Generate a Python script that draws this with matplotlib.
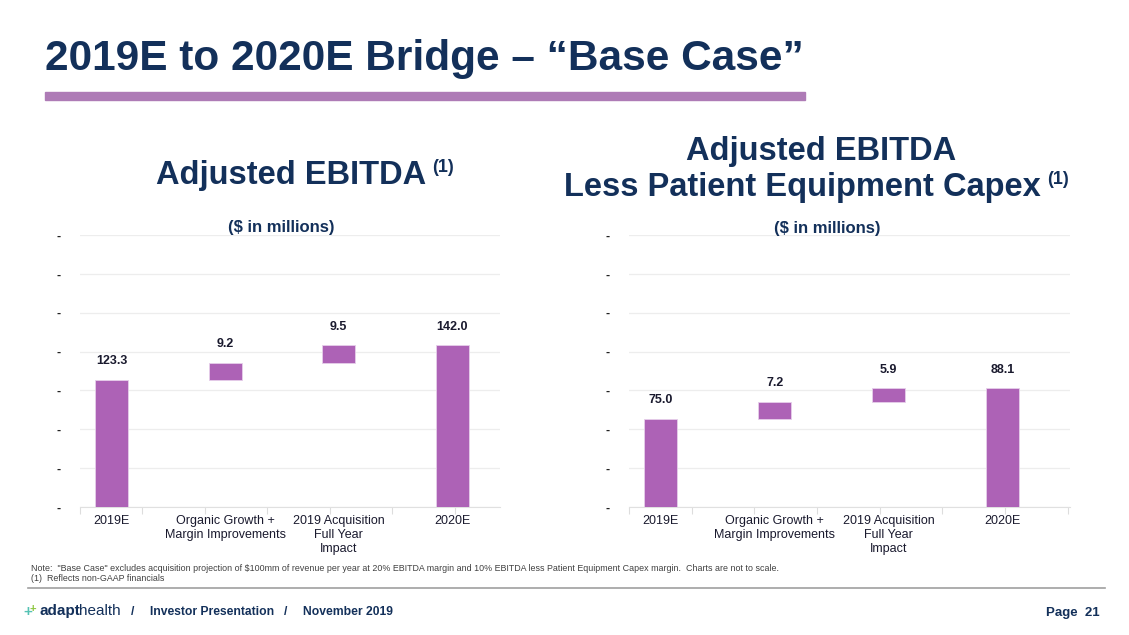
import matplotlib.pyplot as plt
import numpy as np

plt.rcParams['font.family'] = ['Liberation Sans', 'DejaVu Sans']

categories = ["2019E", "Organic Growth +\nMargin Improvements", "2019 Acquisition\nFull Year\nImpact", "2020E"]

# Adjusted EBITDA bridge
ebitda_start = 123.3
ebitda_steps = [9.2, 9.5]
ebitda_end = 142.0

# Adjusted EBITDA less patient equipment capex bridge
capex_start = 75.0
capex_steps = [7.2, 5.9]
capex_end = 88.1

navy = "#13305A"
bar_color = "#AD62B6"
grid_color = "#EDEDED"

W, H = 1129, 635
fig = plt.figure(figsize=(W / 100, H / 100), dpi=100)


def px(x, y):
	return x / W, 1 - y / H


def bridge(ax, start, steps, end, ylo, yhi, xhi):
	bottoms = [0]
	heights = [start]
	level = start
	for s in steps:
		bottoms.append(level)
		heights.append(s)
		level += s
	bottoms.append(0)
	heights.append(end)
	labels = [start] + steps + [end]
	x = np.arange(len(categories))
	ax.bar(x, heights, bottom=bottoms, width=0.29, color=bar_color, edgecolor="#E6CFEA", linewidth=0.6, zorder=3)
	for xi, b, h, lab in zip(x, bottoms, heights, labels):
		ax.annotate(f"{lab:.1f}", (xi, b + h), xytext=(0, 9), textcoords="offset points",
			ha="center", va="bottom", fontsize=9, fontweight="bold", color="#1A1A2E")
	ax.set_ylim(ylo, yhi)
	ax.set_xlim(-0.28, xhi)
	ticks = np.linspace(ylo, yhi, 8)
	ax.set_yticks(ticks)
	ax.set_yticklabels(["-"] * len(ticks), fontweight="bold")
	ax.tick_params(axis="y", length=0, pad=14, labelsize=9, labelcolor="#222222")
	ax.set_xticks(x)
	ax.set_xticklabels(categories, fontsize=9, color="#1A1A2E", linespacing=1.2)
	ax.tick_params(axis="x", length=0, pad=6)
	ax.set_xticks(np.arange(-0.28, xhi, 0.55), minor=True)
	ax.tick_params(axis="x", which="minor", length=5, color="#DDDDDD", width=0.8)
	ax.grid(axis="y", color=grid_color, linewidth=0.9, zorder=0)
	for s in ["top", "right", "left"]:
		ax.spines[s].set_visible(False)
	ax.spines["bottom"].set_color("#E0E0E0")
	ax.set_facecolor("none")


ax1 = fig.add_axes([80 / W, 1 - 507 / H, 420 / W, 272 / H])
bridge(ax1, ebitda_start, ebitda_steps, ebitda_end, 54.3, 202.0, 3.42)

ax2 = fig.add_axes([629 / W, 1 - 507 / H, 441 / W, 272 / H])
bridge(ax2, capex_start, capex_steps, capex_end, 37.3, 153.5, 3.59)

# slide title and band
fig.text(*px(45, 70), "2019E to 2020E Bridge – “Base Case”", fontsize=30.5, fontweight="bold",
	color=navy, va="baseline", ha="left")
fig.patches.append(plt.Rectangle(px(45, 100), 760 / W, 8 / H, transform=fig.transFigure,
	color="#AE7BB6", zorder=1))

# chart titles
tkw = dict(fontweight="bold", color=navy, va="baseline")
fig.text(*px(426, 184), "Adjusted EBITDA", fontsize=23.5, ha="right", **tkw)
fig.text(*px(432, 172), "(1)", fontsize=13, ha="left", **tkw)
fig.text(*px(821, 160), "Adjusted EBITDA", fontsize=23.5, ha="center", **tkw)
fig.text(*px(1041, 196), "Less Patient Equipment Capex", fontsize=23.5, ha="right", **tkw)
fig.text(*px(1047, 184), "(1)", fontsize=13, ha="left", **tkw)
fig.text(*px(281, 232), "($ in millions)", fontsize=12, ha="center", **tkw)
fig.text(*px(827, 233), "($ in millions)", fontsize=12, ha="center", **tkw)

# notes
nkw = dict(fontsize=6.4, color="#404040", va="baseline", ha="left")
fig.text(*px(31, 571), "Note:  \"Base Case\" excludes acquisition projection of $100mm of revenue per year at 20% EBITDA margin "
	"and 10% EBITDA less Patient Equipment Capex margin.  Charts are not to scale.", **nkw)
fig.text(*px(31, 581), "(1)  Reflects non-GAAP financials", **nkw)
fig.add_artist(plt.Line2D([28 / W, 1105 / W], [1 - 588 / H] * 2, color="#A0A0A0", lw=1.2))

# footer
fig.text(*px(23, 616), "+", fontsize=11, fontweight="bold", color="#56C2B4", va="baseline")
fig.text(*px(30, 612), "+", fontsize=8, fontweight="bold", color="#8DC63F", va="baseline")
fig.text(*px(39, 615), "adapt", fontsize=11, fontweight="bold", color=navy, va="baseline")
fig.text(*px(79, 615), "health", fontsize=11, color=navy, va="baseline")
fkw = dict(fontsize=8.7, fontweight="bold", color=navy, va="baseline")
fig.text(*px(131, 615), "/", **fkw)
fig.text(*px(150, 615), "Investor Presentation", **fkw)
fig.text(*px(284, 615), "/", **fkw)
fig.text(*px(303, 615), "November 2019", **fkw)
fig.text(*px(1100, 616), "Page  21", fontsize=9.5, fontweight="bold", color=navy, va="baseline", ha="right")

fig.savefig("out.png", dpi=100)
